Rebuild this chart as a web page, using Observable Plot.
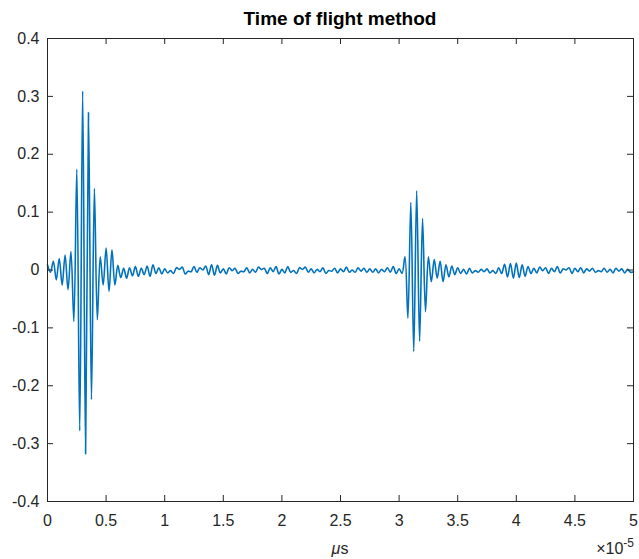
<!DOCTYPE html>
<html>
<head>
<meta charset="utf-8">
<script src="https://cdn.jsdelivr.net/npm/d3@7"></script>
<script src="https://cdn.jsdelivr.net/npm/@observablehq/plot@0.6"></script>
<style>
  html, body { margin: 0; padding: 0; background: #fff; }
</style>
</head>
<body>
<div id="chart"></div>
<script>
// Sample spacing (×10^-5 s) of the readings below
const sampleStep = 0.025;
// Amplitude at each sample, starting at t = 0
const amplitude = [
  0.009, -0.004, 0.015, -0.017, 0.020, -0.026, 0.026, -0.034, 0.032, -0.089,
  0.174, -0.278, 0.309, -0.318, 0.272, -0.224, 0.141, -0.086, 0.023, -0.026,
  0.038, -0.037, 0.035, -0.026, 0.008, -0.013, 0.003, -0.014, 0.004, -0.010,
  0.006, -0.011, 0.003, -0.008, 0.007, -0.011, 0.009, -0.006, 0.004, -0.007,
  0.002, -0.005, -0.001, -0.006, 0.004, 0.001, 0.005, -0.007, -0.002, -0.003,
  0.006, -0.004, 0.004, 0.000, 0.007, -0.008, 0.009, -0.009, 0.008, -0.005,
  0.002, -0.007, 0.004, -0.001, 0.003, -0.006, -0.002, -0.003, 0.004, -0.005,
  0.001, -0.004, 0.005, 0.001, 0.003, -0.006, 0.004, -0.003, 0.006, -0.007,
  0.001, -0.005, 0.006, -0.004, -0.001, -0.006, 0.004, 0.001, 0.005, -0.004,
  0.002, -0.005, 0.001, -0.003, 0.004, -0.006, -0.001, -0.002, 0.003, -0.005,
  0.002, -0.003, 0.005, -0.004, 0.000, -0.004, 0.004, -0.002, 0.003, -0.004,
  0.002, -0.004, 0.002, -0.005, 0.001, -0.003, 0.004, -0.004, 0.006, -0.006,
  0.002, -0.006, 0.023, -0.083, 0.117, -0.141, 0.137, -0.123, 0.089, -0.072,
  0.023, -0.020, 0.018, -0.014, 0.015, -0.020, 0.009, -0.012, 0.007, -0.008,
  0.004, -0.006, 0.001, -0.007, 0.003, -0.005, -0.001, -0.004, 0.001, -0.003,
  0.002, -0.005, -0.001, -0.006, 0.004, -0.006, 0.010, -0.012, 0.011, -0.014,
  0.012, -0.013, 0.009, -0.011, 0.006, -0.006, 0.003, -0.005, 0.005, -0.001,
  0.004, -0.006, 0.003, -0.003, 0.006, -0.005, 0.002, 0.000, 0.004, -0.006,
  0.003, -0.003, 0.004, -0.005, 0.002, -0.002, 0.003, -0.004, -0.001, -0.003,
  0.003, -0.004, 0.001, -0.005, 0.003, -0.002, 0.002, -0.005, 0.001, -0.004,
  -0.003
];
const xTicks = [0, 0.5, 1, 1.5, 2, 2.5, 3, 3.5, 4, 4.5, 5];
const xTickLabels = ["0", "0.5", "1", "1.5", "2", "2.5", "3", "3.5", "4", "4.5", "5"];
const yTicks = [-0.4, -0.3, -0.2, -0.1, 0, 0.1, 0.2, 0.3, 0.4];
const yTickLabels = ["-0.4", "-0.3", "-0.2", "-0.1", "0", "0.1", "0.2", "0.3", "0.4"];
const titleText = "Time of flight method";

const data = amplitude.map((v, i) => ({t: i * sampleStep, v}));

const W = 639, H = 559;
const mL = 47, mR = 6, mT = 38, mB = 58;
const innerW = W - mL - mR, innerH = H - mT - mB;
const tick = 6;
const ink = "#262626";

const plot = Plot.plot({
  width: W,
  height: H,
  marginLeft: mL,
  marginRight: mR,
  marginTop: mT,
  marginBottom: mB,
  style: {fontFamily: "'Liberation Sans', Arial, sans-serif", fontSize: "16px", color: ink, background: "#fff"},
  x: {domain: [0, 5]},
  y: {domain: [-0.4, 0.4]},
  marks: [
    Plot.line(data, {x: "t", y: "v", stroke: "#0072BD", strokeWidth: 1.6, curve: "catmull-rom"}),
    Plot.ruleX(xTicks, {x: d => d, insetTop: innerH - tick, stroke: ink}),
    Plot.ruleX(xTicks, {x: d => d, insetBottom: innerH - tick, stroke: ink}),
    Plot.ruleY(yTicks, {y: d => d, insetRight: innerW - tick, stroke: ink}),
    Plot.ruleY(yTicks, {y: d => d, insetLeft: innerW - tick, stroke: ink}),
    Plot.frame({stroke: ink}),
    Plot.axisX({ticks: xTicks, tickSize: 0, tickPadding: 13, tickFormat: d => xTickLabels[xTicks.indexOf(d)], label: null, fill: ink}),
    Plot.axisY({ticks: yTicks, tickSize: 0, tickPadding: 8, tickFormat: d => yTickLabels[yTicks.findIndex(t => Math.abs(t - d) < 1e-9)], label: null, fill: ink})
  ]
});

const svg = d3.select(plot);
svg.append("text")
  .attr("x", mL + innerW / 2).attr("y", 25)
  .attr("text-anchor", "middle")
  .attr("font-weight", "bold").attr("font-size", 19)
  .attr("fill", "#000")
  .text(titleText);

const xl = svg.append("text")
  .attr("x", mL + innerW / 2).attr("y", 554)
  .attr("text-anchor", "middle").attr("font-size", 16).attr("fill", ink);
xl.append("tspan").attr("font-style", "italic").text("μ");
xl.append("tspan").text("s");

const ex = svg.append("text")
  .attr("x", W - 5).attr("y", 554)
  .attr("text-anchor", "end").attr("font-size", 16).attr("fill", ink);
ex.append("tspan").text("×10");
ex.append("tspan").attr("font-size", 12).attr("dy", -7).text("-5");

document.getElementById("chart").appendChild(plot);
</script>
</body>
</html>
